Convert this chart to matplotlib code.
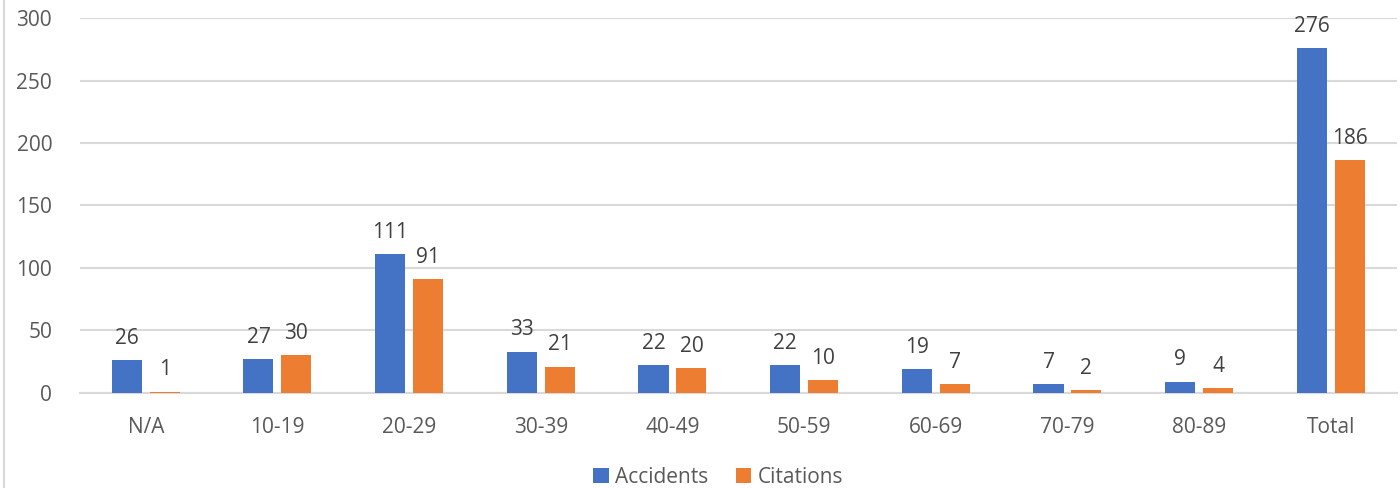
import matplotlib
matplotlib.use('Agg')
import matplotlib.pyplot as plt
from matplotlib.lines import Line2D
import numpy as np

plt.rcParams['font.family'] = ['Open Sans', 'DejaVu Sans']

categories = ['N/A', '10-19', '20-29', '30-39', '40-49', '50-59', '60-69', '70-79', '80-89', 'Total']
accidents = [26, 27, 111, 33, 22, 22, 19, 7, 9, 276]
citations = [1, 30, 91, 21, 20, 10, 7, 2, 4, 186]

blue = '#4472C4'
orange = '#ED7D31'
grid = '#d9d9d9'
txt = '#595959'
fs = 15

fig = plt.figure(figsize=(14, 4.88), dpi=100)
ax = fig.add_axes([0.0571, 0.1947, 0.9405, 0.7684])

x = np.arange(len(categories))
w = 0.228
off = 0.144
b1 = ax.bar(x - off, accidents, w, color=blue, label='Accidents', zorder=3)
b2 = ax.bar(x + off, citations, w, color=orange, label='Citations', zorder=3)

for bars, vals in ((b1, accidents), (b2, citations)):
    for rect, v in zip(bars, vals):
        ax.text(rect.get_x() + rect.get_width() / 2, v + 9, str(v),
                ha='center', va='bottom', fontsize=fs, color='#404040')

ax.set_xlim(-0.5, len(categories) - 0.5)
ax.set_ylim(0, 300)
ax.set_yticks(range(0, 301, 50))
ax.set_xticks(x)
ax.set_xticklabels(categories)
ax.tick_params(axis='both', length=0, labelsize=fs, colors=txt)
ax.tick_params(axis='y', pad=20)
ax.tick_params(axis='x', pad=17)
ax.yaxis.grid(True, color=grid, linewidth=1.5, zorder=0)
for s in ['top', 'right', 'left']:
    ax.spines[s].set_visible(False)
ax.spines['bottom'].set_color(grid)
ax.spines['bottom'].set_linewidth(1.5)

fig.legend(handles=[b1, b2], labels=['Accidents', 'Citations'], loc='center',
           bbox_to_anchor=(0.513, 0.022), ncol=2, frameon=False, fontsize=fs,
           handlelength=0.75, handleheight=0.75, handletextpad=0.3, columnspacing=1.3,
           labelcolor=txt)

fig.add_artist(Line2D([0.003, 0.003], [0, 1], color=grid, linewidth=1.5))

fig.savefig('out.png', dpi=100)
